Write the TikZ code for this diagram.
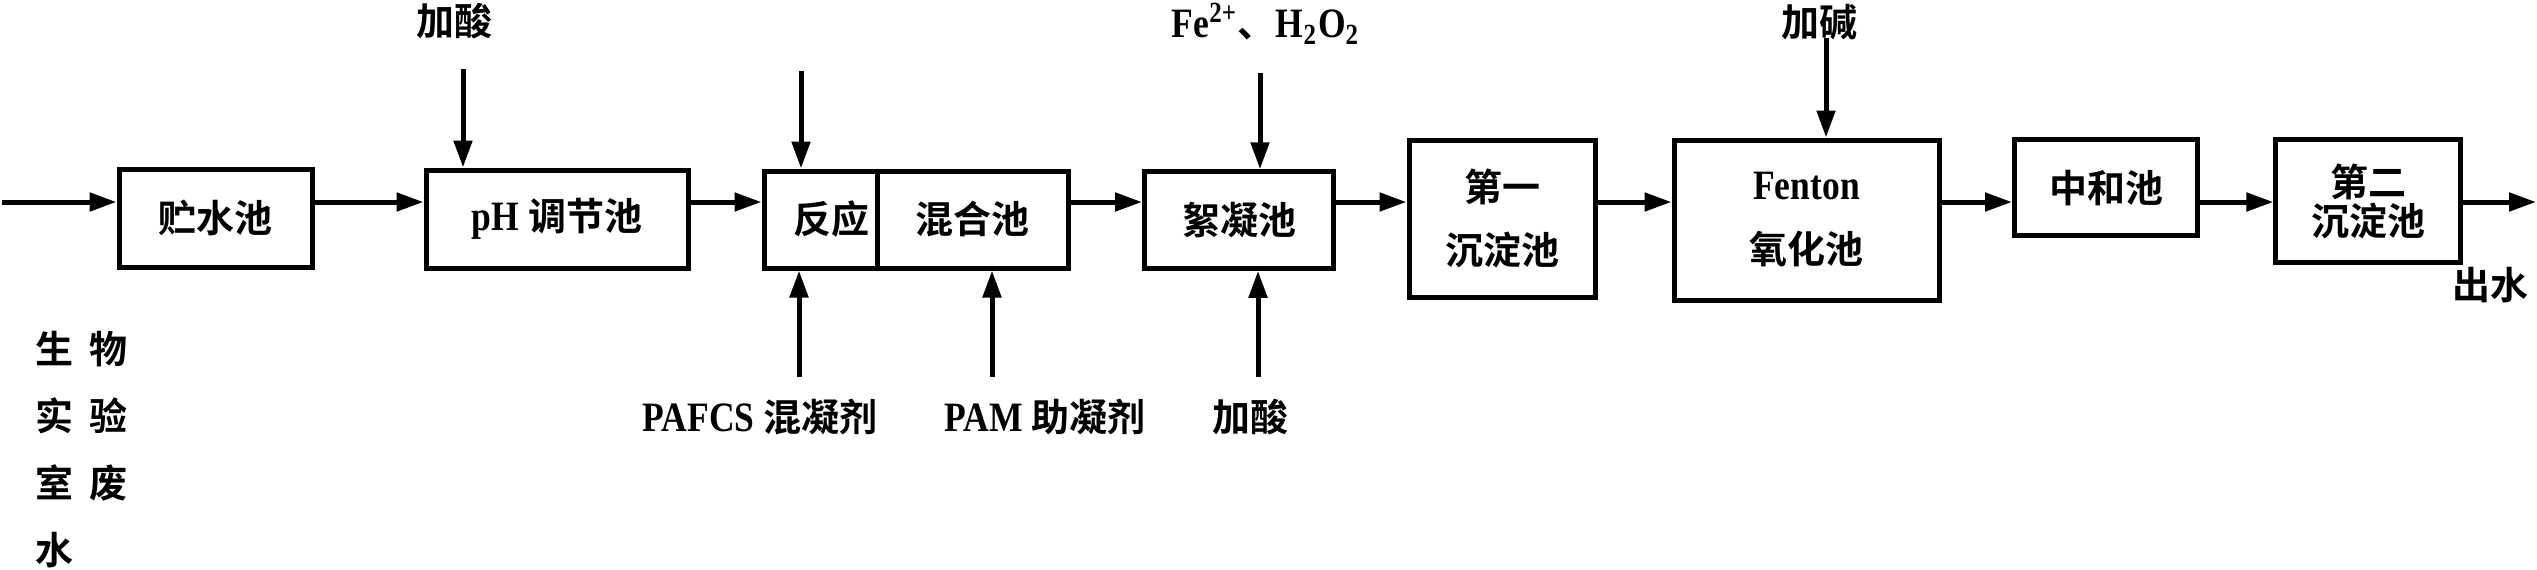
\documentclass[tikz,border=0pt]{standalone}
\usepackage{fontspec}
\setmainfont{Liberation Serif}[Scale=1.1, FakeStretch=0.85]
\newfontfamily\cjk{Noto Sans CJK SC}[BoldFont={Noto Sans CJK SC Bold}]
\usetikzlibrary{arrows.meta}
\newcommand\zh[1]{{\cjk\bfseries #1}}

\begin{document}
\begin{tikzpicture}[x=0.25pt, y=-0.25pt,
  every node/.style={font=\fontsize{9.5}{11}\selectfont\bfseries},
  tank/.style 2 args={draw, line width=1.25pt, inner sep=0pt, align=center,
    minimum width=#1*0.25pt, minimum height=#2*0.25pt},
  flow/.style={line width=1.25pt, -{Triangle[length=6.75pt, width=4.5pt]}}]
\newcommand\flowy{202}
\useasboundingbox (0,0) rectangle (2537,569);

% tanks
\node[tank={193}{98}] (store) at (215.5,218) {\zh{贮水池}};
\node[tank={262}{98}] (ph) at (557,219) {pH \zh{调节池}};
\node[tank={113.4}{97}, text width=24.35pt, align=right] (react) at (820.7,219.5) {\zh{反应}};
\node[tank={190.6}{97}] (mix) at (972.7,219.5) {\zh{混合池}};
\node[tank={189}{96.5}] (floc) at (1239,220) {\zh{絮凝池}};
\node[tank={186}{157}, font=\fontsize{9.5}{15.75}\selectfont\bfseries] (settle1) at (1502,218.7) {\zh{第一}\\\zh{沉淀池}};
\node[tank={265}{160}, font=\fontsize{9.5}{16}\selectfont\bfseries] (fenton) at (1806.5,220) {Fenton\\\zh{氧化池}};
\node[tank={183}{96}] (neutral) at (2106,187.6) {\zh{中和池}};
\node[tank={185}{123}, font=\fontsize{9.5}{9.75}\selectfont\bfseries] (settle2) at (2368.4,201.4) {\zh{第二}\\\zh{沉淀池}};

% main flow
\coordinate (in) at (2,\flowy);
\coordinate (out) at (2536,\flowy);
\draw[flow] (in) -- (store.west |- in);
\foreach \a/\b in {store/ph, ph/react, mix/floc, floc/settle1, settle1/fenton, fenton/neutral, neutral/settle2}
  \draw[flow] (\a.east |- in) -- (\b.west |- in);
\draw[flow] (settle2.east |- in) -- (out);

% dosing from above
\coordinate (acidtop) at (463,69);
\coordinate (reacttop) at (801,71);
\coordinate (fetop) at (1260,73);
\coordinate (alkalitop) at (1826,38);
\draw[flow] (acidtop) -- (acidtop |- ph.north);
\draw[flow] (reacttop) -- (reacttop |- react.north);
\draw[flow] (fetop) -- (fetop |- floc.north);
\draw[flow] (alkalitop) -- (alkalitop |- fenton.north);

% dosing from below
\coordinate (pafcsbot) at (799,377);
\coordinate (pambot) at (992,377);
\coordinate (acidbot) at (1258,377);
\draw[flow] (pafcsbot) -- (pafcsbot |- react.south);
\draw[flow] (pambot) -- (pambot |- mix.south);
\draw[flow] (acidbot) -- (acidbot |- floc.south);

% labels
\node (lacid) at (454,21) {\zh{加酸}};
\node (lfe) at (1266,24) {Fe\textsuperscript{2+}\zh{、}H\textsubscript{2}O\textsubscript{2}};
\node (lalkali) at (1819,22) {\zh{加碱}};
\node (lpafcs) at (760,417) {PAFCS \zh{混凝剂}};
\node (lpam) at (1045,417) {PAM \zh{助凝剂}};
\node (lacidb) at (1250,417) {\zh{加酸}};
\node (lout) at (2490,285) {\zh{出水}};
\node[align=left, font=\fontsize{9.5}{16.75}\selectfont\bfseries] (lsrc) at (81.5,450)
  {\zh{生\hspace{4pt}物}\\\zh{实\hspace{4pt}验}\\\zh{室\hspace{4pt}废}\\\zh{水}};
\end{tikzpicture}
\end{document}
